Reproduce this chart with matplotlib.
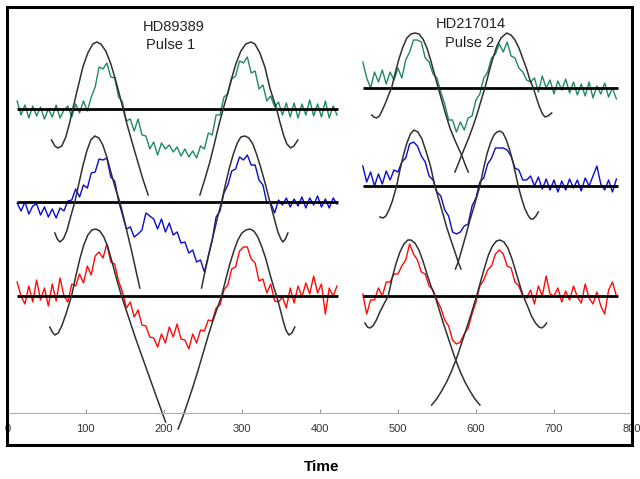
import numpy as np
import matplotlib.pyplot as plt
from matplotlib.patches import Rectangle

plt.rcParams["font.family"] = ["Liberation Sans", "DejaVu Sans"]

# Time grids of the two pulses
t_left = np.arange(12, 423, 5)
t_right = np.arange(455, 781, 5)

# Row offsets (green, blue, red) and baseline extents
left_offsets = [304, 211, 117]
right_offsets = [325, 227, 117]
left_span = (11.5, 423)
right_span = (455, 782)

# Pulse 1 (HD89389) observed signals, relative to baseline
p1_green = [8, -6, 4, -9, 3, -7, 2, -10, 0, -8,
            4, -9, -1, 3, -8, 5, -4, 8, -2, 12,
            22, 42, 40, 46, 32, 31, 12, 7, -12, -10,
            -22, -10, -26, -27, -40, -33, -46, -34, -40, -36,
            -43, -38, -47, -40, -48, -42, -49, -37, -40, -24,
            -26, -6, -6, 12, 15, 30, 33, 48, 46, 52,
            36, 38, 20, 24, 8, 13, 2, 7, -6, 6,
            -8, 6, -9, 5, -6, 9, -7, 5, -8, 8,
            -9, 3, -6]
p1_blue = [-1, -9, 0, -12, -4, -2, -13, -5, -15, -7,
           -16, -6, -9, 1, 2, 13, 5, 17, 14, 29,
           30, 43, 42, 44, 25, 21, 1, -13, -27, -25,
           -35, -32, -28, -11, -14, -17, -27, -17, -30, -21,
           -33, -30, -41, -40, -51, -48, -60, -58, -70, -54,
           -38, -15, -9, 9, 17, 31, 33, 45, 42, 47,
           37, 37, 22, 17, -1, -1, -11, 2, -3, 4,
           -5, 3, -4, 5, -6, 4, -3, 6, -5, 3,
           -6, 4, -2]
p1_red = [14, 0, -8, 10, -6, 16, -4, 8, -10, 12,
          -5, 18, 0, -6, 12, 10, 22, 13, 30, 21,
          40, 44, 38, 52, 34, 32, 15, 4, -12, -6,
          -21, -14, -29, -30, -41, -42, -51, -38, -47, -31,
          -41, -28, -43, -44, -53, -38, -47, -34, -35, -24,
          -25, -12, -9, 6, 11, 27, 29, 45, 49, 49,
          37, 33, 15, 17, 3, 12, -5, -6, -1, -12,
          8, -7, 10, -1, 13, 2, 20, 3, 12, -18,
          8, 0, 10]

# Pulse 2 (HD217014) observed signals
p2_green = [26, 10, 0, 16, 6, 18, 4, 16, 8, 20,
            10, 28, 36, 48, 48, 46, 30, 26, 14, 10,
            -4, -16, -32, -32, -44, -34, -42, -30, -28, -12,
            -6, 10, 16, 30, 34, 44, 36, 46, 32, 30,
            20, 16, 8, 6, 10, -4, 12, 0, 8, -6,
            7, -2, 9, -5, 6, -7, 4, -8, 6, -10,
            2, -6, 5, -9, 0, -11]
p2_blue = [20, 4, 14, 0, 12, 2, 15, 6, 16, 14,
           24, 28, 42, 44, 40, 30, 24, 10, 6, -6,
           -10, -24, -30, -46, -48, -46, -40, -38, -20, -12,
           4, 8, 22, 28, 38, 38, 38, 36, 30, 18,
           16, 6, 6, 10, 0, 9, -3, 7, -4, 6,
           -6, 5, -4, 7, -2, 6, -5, 8, 0, 10,
           20, 2, -4, 6, -6, 7]
p2_red = [2, -18, -4, -4, 8, 0, 14, 14, 22, 22,
          30, 36, 52, 42, 36, 24, 22, 10, 6, -4,
          -12, -24, -30, -44, -48, -46, -38, -32, -18, -6,
          10, 16, 26, 30, 42, 46, 42, 30, 28, 14,
          10, 0, -2, 6, -8, 10, 0, 20, 2, 0,
          8, -6, 5, -4, 10, -1, -7, 12, -2, -8,
          4, -10, -18, 6, 14, 0]

# Model curves (x, deviation from baseline)
m1_green_a_x = [56.0, 60.3, 64.1, 69.2, 74.4, 79.5, 83.3, 89.7, 96.2, 102.6, 109.0, 114.1,
                119.2, 125.6, 132.1, 138.5, 143.6, 147.8, 153.8, 160.3, 166.7, 173.1, 179.9]
m1_green_a_y = [-31, -37, -39, -37, -28, -13, 0, 21, 42, 56, 65, 67,
                65, 58, 45, 28, 13, 0, -18, -36, -53, -70, -86]
m1_green_b_x = [246.2, 252.6, 259.0, 264.1, 269.9, 276.0, 280.8, 285.9, 292.3, 298.7, 305.1, 311.5,
                316.7, 323.1, 329.5, 335.9, 344.5, 348.7, 353.8, 357.7, 362.4, 366.7, 371.8]
m1_green_b_y = [-86, -70, -53, -37, -18, 0, 13, 28, 45, 58, 65, 67,
                65, 56, 42, 21, 0, -13, -27, -35, -39, -37, -31]
m1_blue_a_x = [60.3, 63.5, 66.7, 71.2, 75.6, 80.8, 85.9, 91.0, 96.2, 101.3, 106.4, 111.5,
               116.7, 121.8, 126.9, 132.1, 137.8, 143.6, 148.7, 153.8, 159.0, 164.1, 169.2]
m1_blue_a_y = [-31, -37, -40, -37, -29, -14, 0, 18, 36, 51, 62, 66,
               64, 57, 45, 30, 14, 0, -16, -33, -50, -68, -86]
m1_blue_b_x = [248.3, 253.2, 258.3, 263.5, 268.6, 274.0, 278.8, 284.0, 289.1, 294.2, 298.7, 303.8,
               309.0, 314.1, 319.2, 324.4, 330.1, 335.9, 341.0, 346.2, 350.0, 352.6, 355.8, 359.0]
m1_blue_b_y = [-86, -68, -50, -33, -16, 0, 17, 34, 48, 59, 65, 66,
               64, 58, 47, 34, 18, 0, -15, -30, -37, -40, -37, -31]
m1_red_a_x = [53.8, 57.1, 60.3, 64.7, 69.2, 75.0, 81.7, 87.2, 92.3, 97.4, 102.6, 107.7, 112.8,
              117.9, 123.1, 128.2, 133.3, 139.1, 145.8, 151.3, 157.7, 164.1, 170.5, 176.9,
              183.3, 189.7, 196.2, 202.2]
m1_red_a_y = [-31, -36, -39, -37, -30, -17, 0, 20, 37, 51, 61, 66, 67,
              65, 59, 49, 35, 18, 0, -13, -28, -43, -57, -71,
              -85, -99, -113, -126]
m1_red_b_x = [218.3, 224.7, 230.8, 237.2, 243.6, 250.0, 256.4, 262.8, 268.6, 274.0, 279.5, 284.6,
              289.7, 294.9, 300.0, 305.1, 310.3, 315.4, 320.5, 325.6, 330.8, 335.9, 340.4, 344.5,
              348.7, 352.6, 356.4, 360.3, 364.1, 367.9]
m1_red_b_y = [-133, -120, -106, -91, -75, -58, -41, -25, -12, 0, 17, 32,
              45, 56, 63, 66, 67, 65, 59, 49, 37, 22, 10, 0,
              -12, -24, -34, -39, -37, -31]

m2_green_a_x = [466.3, 469.2, 472.7, 476.3, 480.1, 484.6, 488.5, 491.9, 496.2, 501.3, 506.4, 511.5,
                516.7, 521.8, 526.9, 532.1, 537.2, 542.3, 546.8, 551.7, 556.4, 561.5, 566.7, 571.8,
                576.9, 581.7, 585.9, 590.1]
m2_green_a_y = [-27, -29, -30, -28, -22, -14, -6, 0, 14, 29, 41, 50,
                54, 55, 54, 49, 40, 27, 14, 0, -13, -27, -40, -50,
                -59, -67, -76, -84]
m2_green_b_x = [573.1, 577.3, 581.7, 586.5, 591.7, 596.8, 601.9, 606.4, 611.5, 616.7, 621.8, 626.9,
                632.1, 639.4, 644.9, 650.0, 655.1, 660.3, 665.4, 669.2, 673.5, 677.6, 681.4, 685.3,
                688.5, 692.3, 697.1]
m2_green_b_y = [-84, -76, -67, -58, -48, -37, -25, -13, 0, 16, 30, 42,
                50, 55, 53, 48, 40, 29, 18, 8, 0, -10, -19, -26,
                -29, -28, -25]
m2_blue_a_x = [476.9, 480.8, 484.6, 488.5, 492.9, 498.3, 502.6, 507.1, 511.5, 516.0, 520.5, 525.6,
               530.8, 535.9, 541.7, 547.4, 552.6, 557.7, 562.8, 567.9, 573.1, 577.3, 580.8]
m2_blue_a_y = [-31, -32, -30, -24, -15, 0, 16, 31, 43, 52, 56, 54,
               47, 35, 20, 0, -14, -28, -42, -54, -66, -76, -83]
m2_blue_b_x = [573.7, 577.3, 582.1, 587.2, 592.3, 597.4, 601.3, 605.1, 609.6, 614.1, 618.6, 623.1,
               626.9, 630.8, 634.6, 638.5, 642.9, 647.4, 650.6, 654.2, 658.3, 662.8, 667.3, 670.5,
               673.5, 676.9, 679.9]
m2_blue_b_y = [-83, -76, -63, -49, -34, -21, -10, 0, 17, 32, 43, 51,
               54, 55, 53, 47, 37, 24, 13, 0, -12, -23, -30, -33,
               -33, -30, -26]
m2_red_a_x = [457.7, 460.9, 464.1, 467.9, 472.4, 476.9, 482.1, 487.6, 492.3, 497.4, 502.6, 507.7,
              512.8, 516.7, 521.8, 526.9, 532.1, 537.2, 542.3, 547.4, 552.6, 557.7, 562.8, 567.9,
              573.1, 579.5, 585.9, 592.3, 598.7, 605.1]
m2_red_a_y = [-27, -31, -32, -30, -24, -16, -8, 0, 17, 32, 44, 52,
              56, 56, 53, 46, 35, 22, 10, 0, -13, -26, -38, -50,
              -62, -75, -86, -95, -103, -109]
m2_red_b_x = [543.2, 549.6, 556.0, 562.4, 568.8, 575.3, 580.4, 585.5, 590.6, 595.8, 600.9, 605.8,
              610.9, 616.0, 621.2, 626.3, 630.8, 635.9, 641.0, 646.2, 651.3, 655.8, 660.6, 666.0,
              671.2, 676.3, 680.8, 684.2, 687.8, 690.6]
m2_red_b_y = [-109, -103, -95, -86, -75, -62, -50, -38, -26, -13, 0, 14,
              28, 41, 50, 55, 56, 54, 48, 37, 24, 12, 0, -10,
              -20, -27, -31, -32, -30, -27]

x_ticks = [0, 100, 200, 300, 400, 500, 600, 700, 800]
colors = ["#1e8a5e", "#0a0ad0", "#ff0a0a"]

fig, ax = plt.subplots(figsize=(6.4, 4.79), dpi=100)
fig.subplots_adjust(left=7 / 640, right=632 / 640, bottom=34 / 479, top=472 / 479)

# Observed signals + baselines
for sig, off, c in zip([p1_green, p1_blue, p1_red], left_offsets, colors):
    ax.plot(t_left, np.array(sig) + off, color=c, lw=1.0)
    ax.hlines(off, *left_span, color="black", lw=2)
for sig, off, c in zip([p2_green, p2_blue, p2_red], right_offsets, colors):
    ax.plot(t_right, np.array(sig) + off, color=c, lw=1.0)
    ax.hlines(off, *right_span, color="black", lw=2)

# Model curves
models = [
    (m1_green_a_x, m1_green_a_y, left_offsets[0]), (m1_green_b_x, m1_green_b_y, left_offsets[0]),
    (m1_blue_a_x, m1_blue_a_y, left_offsets[1]), (m1_blue_b_x, m1_blue_b_y, left_offsets[1]),
    (m1_red_a_x, m1_red_a_y, left_offsets[2]), (m1_red_b_x, m1_red_b_y, left_offsets[2]),
    (m2_green_a_x, m2_green_a_y, right_offsets[0]), (m2_green_b_x, m2_green_b_y, right_offsets[0]),
    (m2_blue_a_x, m2_blue_a_y, right_offsets[1]), (m2_blue_b_x, m2_blue_b_y, right_offsets[1]),
    (m2_red_a_x, m2_red_a_y, right_offsets[2]), (m2_red_b_x, m2_red_b_y, right_offsets[2]),
]
for mx, my, off in models:
    ax.plot(mx, np.array(my) + off, color="#303030", lw=1.1)

# Labels
ax.text(213, 386, "HD89389", ha="center", va="center", fontsize=10.5, color="#222")
ax.text(208, 368, "Pulse 1", ha="center", va="center", fontsize=10.5, color="#222")
ax.text(594, 389, "HD217014", ha="center", va="center", fontsize=10.5, color="#222")
ax.text(592, 370, "Pulse 2", ha="center", va="center", fontsize=10.5, color="#222")
fig.text(322 / 640, 1 - 467 / 479, "Time", ha="center", va="center",
         fontsize=11, fontweight="bold")

# Axes styling
ax.set_xlim(-1, 800)
ax.set_ylim(-32, 406)
ax.set_yticks([])
ax.set_xticks(x_ticks)
for s in ["left", "right", "top"]:
    ax.spines[s].set_visible(False)
ax.spines["bottom"].set_position(("data", 0))
ax.spines["bottom"].set_color("#b0b0b0")
ax.tick_params(axis="x", direction="in", length=3, color="#999999",
               labelsize=8, labelcolor="#333333", pad=8)
ax.add_patch(Rectangle((0, 0), 1, 1, transform=ax.transAxes, fill=False,
                       lw=2.2, ec="black", clip_on=False, zorder=5))

fig.savefig("out.png", dpi=100)
